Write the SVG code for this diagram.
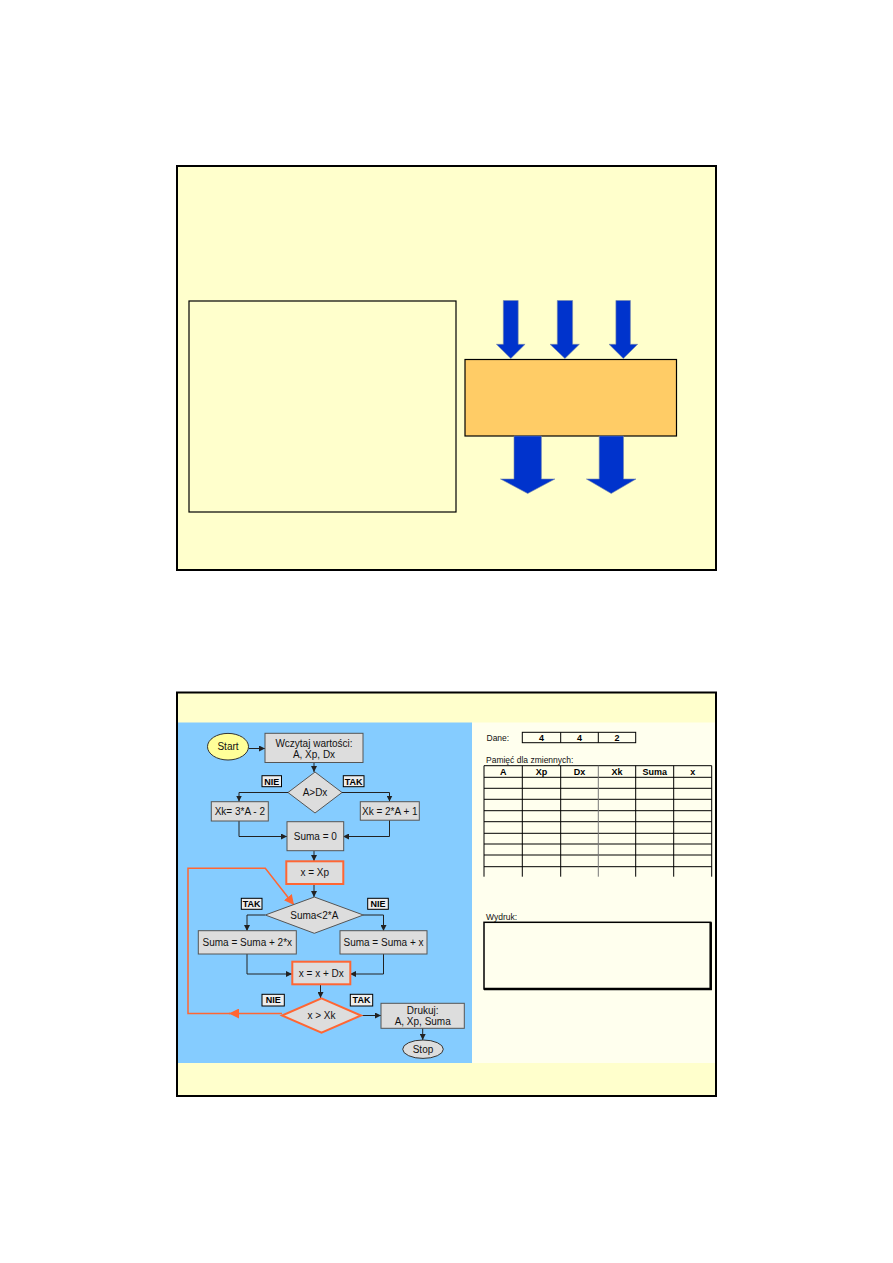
<svg xmlns="http://www.w3.org/2000/svg" width="893" height="1263" viewBox="0 0 893 1263">
<defs>
<style>
.slide{fill:#FFFFCC;stroke:#000;stroke-width:2}
.box{fill:#DDDDDD;stroke:#555;stroke-width:1}
.obox{fill:#DDDDDD;stroke:#FF6633;stroke-width:2}
.lbl{fill:#EEEEEE;stroke:#000;stroke-width:1}
.t{font-family:"Liberation Sans",Arial,sans-serif;font-size:10px;fill:#111;text-anchor:middle}
.tb{font-family:"Liberation Sans",Arial,sans-serif;font-size:9px;font-weight:bold;fill:#000;text-anchor:middle}
.tl{font-family:"Liberation Sans",Arial,sans-serif;font-size:8.5px;fill:#111}
.ln{fill:none;stroke:#222;stroke-width:1}
.oln{fill:none;stroke:#FF6633;stroke-width:1.5}
.tab{fill:none;stroke:#000;stroke-width:1}
.big{fill:#0033CC;stroke:#7788AA;stroke-width:0.6}
</style>
<marker id="ah" viewBox="0 0 10 10" refX="10" refY="5" markerWidth="6" markerHeight="6" orient="auto" markerUnits="userSpaceOnUse">
<path d="M0,0 L10,5 L0,10 z" fill="#222"/>
</marker>
<marker id="oah" viewBox="0 0 10 10" refX="10" refY="5" markerWidth="10" markerHeight="10" orient="auto" markerUnits="userSpaceOnUse">
<path d="M0,0 L10,5 L0,10 z" fill="#FF6633"/>
</marker>
</defs>

<!-- Slide 1 -->
<g id="slide1">
<rect class="slide" x="177" y="166" width="539" height="404"/>
<rect id="panel1" x="189" y="301" width="267" height="211" fill="none" stroke="#000" stroke-width="1.2"/>
<g id="in-arrows">
<path class="big" d="M503.3,300.5 H518.2 V344.3 H525.1 L510.8,358.5 L496.4,344.3 H503.3 Z"/>
<path class="big" d="M557.3,300.5 H572.6 V344.3 H579.4 L564.9,358.5 L550,344.3 H557.3 Z"/>
<path class="big" d="M615.9,300.5 H630.4 V344.3 H637.7 L623.3,358.5 L609,344.3 H615.9 Z"/>
</g>
<rect id="process" x="465" y="359.5" width="211.5" height="76.5" fill="#FFCC66" stroke="#000" stroke-width="1.2"/>
<g id="out-arrows">
<path class="big" d="M514,436 H541.4 V479 H554.9 L527.7,493.5 L500.5,479 H514 Z"/>
<path class="big" d="M599.2,436 H623.5 V479 H636 L611.2,493.5 L586.4,479 H599.2 Z"/>
</g>
</g>

<!-- Slide 2 -->
<g id="slide2">
<rect class="slide" x="177" y="692.5" width="539" height="403.5"/>
<rect x="178" y="722.5" width="294" height="340.5" fill="#85CCFF"/>
<rect x="472" y="722.5" width="243" height="340.5" fill="#FFFFEE"/>
</g>

<g id="connectors">
<path class="ln" d="M249,748.5 H265" marker-end="url(#ah)"/>
<path class="ln" d="M314,762.5 V772" marker-end="url(#ah)"/>
<path class="ln" d="M288,792.5 H239 V801.5" marker-end="url(#ah)"/>
<path class="ln" d="M342,792.5 H389.5 V801.5" marker-end="url(#ah)"/>
<path class="ln" d="M239,821 V836.5 H287" marker-end="url(#ah)"/>
<path class="ln" d="M389.5,820 V836.5 H343" marker-end="url(#ah)"/>
<path class="ln" d="M314,851 V861" marker-end="url(#ah)"/>
<path class="ln" d="M314,884 V897" marker-end="url(#ah)"/>
<path class="ln" d="M265,915 H247 V931" marker-end="url(#ah)"/>
<path class="ln" d="M363,915 H383.5 V931" marker-end="url(#ah)"/>
<path class="ln" d="M247,954 V974 H292" marker-end="url(#ah)"/>
<path class="ln" d="M383.5,954 V974 H350" marker-end="url(#ah)"/>
<path class="ln" d="M320.5,984 V998" marker-end="url(#ah)"/>
<path class="ln" d="M361,1015.5 H381" marker-end="url(#ah)"/>
<path class="ln" d="M422.7,1028 V1040" marker-end="url(#ah)"/>
<path class="oln" d="M282,1013.5 H229" marker-end="url(#oah)"/>
<path class="oln" d="M230,1013.5 H188 V868.3 H265.3 L294,905" marker-end="url(#oah)"/>
</g>

<g id="n-start"><ellipse cx="228" cy="746.7" rx="20.5" ry="13.3" fill="#FFFF99" stroke="#333"/><text class="t" x="228" y="750.2">Start</text></g>
<g id="n-read"><rect class="box" x="265" y="733.3" width="98" height="29.2"/><text class="t" x="314" y="746.5">Wczytaj wartości:</text><text class="t" x="314" y="757.8">A, Xp, Dx</text></g>
<g id="n-d1"><path class="box" d="M315,772 L342,792.5 L315,813 L288,792.5 Z"/><text class="t" x="315" y="796">A&gt;Dx</text></g>
<g id="l-nie1"><rect class="lbl" x="262" y="775.7" width="19.5" height="11"/><text class="tb" x="271.7" y="784.5">NIE</text></g>
<g id="l-tak1"><rect class="lbl" x="343.3" y="775.7" width="20.7" height="11"/><text class="tb" x="353.7" y="784.5">TAK</text></g>
<g id="n-xk1"><rect class="box" x="211.3" y="801.7" width="57" height="19.3"/><text class="t" x="239.8" y="815">Xk= 3*A - 2</text></g>
<g id="n-xk2"><rect class="box" x="360.3" y="801.7" width="59" height="18.5"/><text class="t" x="389.8" y="814.6">Xk = 2*A + 1</text></g>
<g id="n-suma0"><rect class="box" x="287" y="821.7" width="56.7" height="29"/><text class="t" x="315.3" y="839.8">Suma = 0</text></g>
<g id="n-xxp"><rect class="obox" x="286.3" y="861.3" width="57" height="22.7"/><text class="t" x="314.8" y="876.2">x = Xp</text></g>
<g id="n-d2"><path class="box" d="M314.3,897 L363.3,915 L314.3,933.3 L265.3,915 Z"/><text class="t" x="314.3" y="918.5">Suma&lt;2*A</text></g>
<g id="l-tak2"><rect class="lbl" x="241.3" y="898.3" width="20.7" height="11"/><text class="tb" x="251.7" y="907.1">TAK</text></g>
<g id="l-nie2"><rect class="lbl" x="367.7" y="898.3" width="20.6" height="11"/><text class="tb" x="378" y="907.1">NIE</text></g>
<g id="n-s2x"><rect class="box" x="198.3" y="930.7" width="98" height="23.3"/><text class="t" x="247.3" y="945.8">Suma = Suma + 2*x</text></g>
<g id="n-sx"><rect class="box" x="340" y="930.7" width="87" height="23.3"/><text class="t" x="383.5" y="945.8">Suma = Suma + x</text></g>
<g id="n-xdx"><rect class="obox" x="292.3" y="961.7" width="58" height="22.6"/><text class="t" x="321.3" y="976.5">x = x + Dx</text></g>
<g id="n-d3"><path class="obox" d="M321.5,998.3 L361,1015.5 L321.5,1032.7 L282,1015.5 Z"/><text class="t" x="321.5" y="1019">x &gt; Xk</text></g>
<g id="l-nie3"><rect class="lbl" x="262" y="994.3" width="22.3" height="11.7"/><text class="tb" x="273.2" y="1003.4">NIE</text></g>
<g id="l-tak3"><rect class="lbl" x="350.3" y="994.3" width="22.4" height="11.7"/><text class="tb" x="361.5" y="1003.4">TAK</text></g>
<g id="n-print"><rect class="box" x="381" y="1003.3" width="83.3" height="25"/><text class="t" x="422.7" y="1013.8">Drukuj:</text><text class="t" x="422.7" y="1025">A, Xp, Suma</text></g>
<g id="n-stop"><ellipse cx="423" cy="1049.2" rx="20.3" ry="9.2" fill="#DDDDDD" stroke="#333"/><text class="t" x="423" y="1052.7">Stop</text></g>

<g id="memory">
<text class="tl" x="486.5" y="740.5">Dane:</text>
<rect class="tab" x="522.3" y="732.3" width="113.4" height="10.4"/>
<path class="tab" d="M560.7,732.3 V742.7 M598.3,732.3 V742.7"/>
<text class="tb" x="541.5" y="741">4</text><text class="tb" x="579.5" y="741">4</text><text class="tb" x="617" y="741">2</text>
<text class="tl" x="486" y="763.3">Pamięć dla zmiennych:</text>
<path class="tab" d="M484,765.7 H711.7 M484,777.3 H711.7 M484,788.3 H711.7 M484,799.3 H711.7 M484,810.7 H711.7 M484,821.7 H711.7 M484,833.3 H711.7 M484,844 H711.7 M484,855 H711.7 M484,866.7 H711.7"/>
<path class="tab" d="M484,765.7 V876.7 M522.3,765.7 V876.7 M560.7,765.7 V876.7 M635.7,765.7 V876.7 M673.7,765.7 V876.7 M711.7,765.7 V876.7"/>
<path d="M598.3,765.7 V876.7" stroke="#777" stroke-width="1"/>
<text class="tb" x="503.2" y="775">A</text><text class="tb" x="541.5" y="775">Xp</text><text class="tb" x="579.5" y="775">Dx</text><text class="tb" x="617" y="775">Xk</text><text class="tb" x="654.7" y="775">Suma</text><text class="tb" x="692.7" y="775">x</text>
<text class="tl" x="486" y="919.5">Wydruk:</text>
<rect x="484" y="922.3" width="226.7" height="66.7" fill="none" stroke="#000" stroke-width="1.5"/>
<path d="M710.7,922.3 V989 H484" fill="none" stroke="#000" stroke-width="2.5"/>
</g>
</svg>
